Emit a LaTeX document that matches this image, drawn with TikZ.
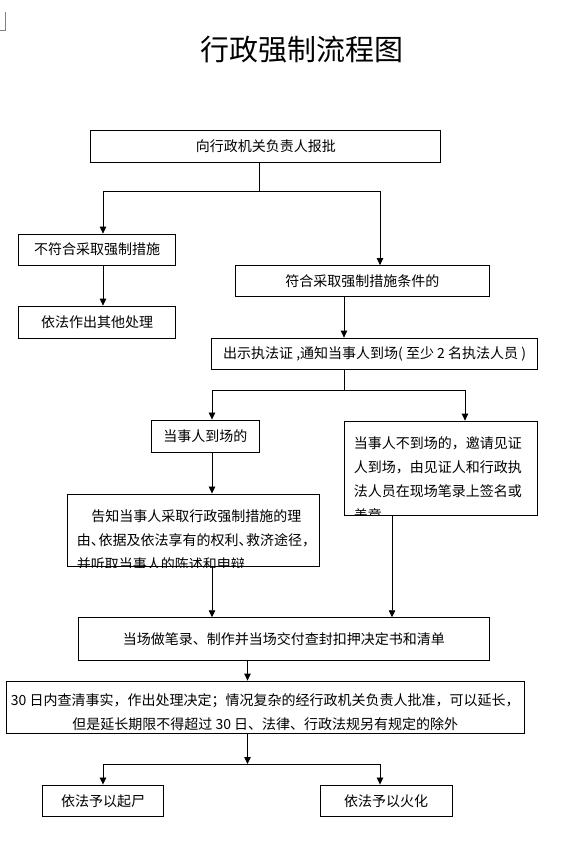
\documentclass[tikz,border=0pt]{standalone}
\usepackage{fontspec}
\setmainfont{Noto Sans CJK SC}
\usetikzlibrary{arrows.meta}

\tikzset{
    >={Triangle[length=7pt,width=6.5pt]},
    box/.style={draw, line width=0.8pt, inner sep=0pt, font=\fontsize{14}{24}\selectfont},
    flow/.style={line width=0.8pt},
    boxtext/.style={anchor=north west, align=left, inner sep=0pt, font=\fontsize{14}{24}\selectfont},
}
\newcommand{\dn}{\makebox[0.55em][l]{、}}

\begin{document}
\begin{tikzpicture}[x=1pt, y=-1pt]
    \useasboundingbox (0,0) rectangle (561,848);
    \draw[gray, line width=0.6pt] (0,30) -- (5.5,30) -- (5.5,12);

    % Title
    \node[font=\fontsize{29}{34}\selectfont] (title) at (302,50) {行政强制流程图};

    % Approval
    \node[box, minimum width=350pt, minimum height=32pt] (report) at (265.8,146) {向行政机关负责人报批};
    \node[box, minimum width=157pt, minimum height=31pt] (nomeet) at (97,249.5) {不符合采取强制措施};
    \node[box, minimum width=157pt, minimum height=32pt] (other) at (97,322) {依法作出其他处理};
    \node[box, minimum width=253.4pt, minimum height=31pt] (meet) at (362.3,281) {符合采取强制措施条件的};
    \coordinate (split1) at (259.7,191.7);
    \draw[flow] (report.south -| split1) -- (split1);
    \draw[flow, ->] (split1) -| ([xshift=6pt]nomeet.north);
    \draw[flow, ->] (split1) -| ([xshift=17.7pt]meet.north);
    \draw[flow, ->] ([xshift=6pt]nomeet.south) -- ([xshift=6pt]other.north);

    % On the spot
    \node[box, minimum width=326.3pt, minimum height=31pt] (notify) at (374.6,353.5) {出示执法证 ,通知当事人到场( 至少 2 名执法人员 )};
    \draw[flow, ->] ([xshift=-18.3pt]meet.south) -- ([xshift=-18.3pt]meet.south |- notify.north);
    \node[box, minimum width=108.7pt, minimum height=32.7pt] (present) at (205.4,436.3) {当事人到场的};
    \node[box, minimum width=193.2pt, minimum height=94pt] (absent) at (441.2,468) {};
    \node[box, minimum width=252.4pt, minimum height=72.7pt] (inform) at (193.2,530.3) {};
    \begin{scope}
        \clip (absent.north west) rectangle (absent.south east);
        \node[boxtext] (absenttext) at ([xshift=9.5pt,yshift=-15.5pt]absent.north west)
            {当事人不到场的，邀请见证\\人到场，由见证人和行政执\\法人员在现场笔录上签名或\\盖章};
    \end{scope}
    \begin{scope}
        \clip (inform.north west) rectangle (inform.south east);
        \node[boxtext] (informtext) at ([xshift=10pt,yshift=-16pt]inform.north west)
            {\hspace*{14.5pt}告知当事人采取行政强制措施的理\\由\dn 依据及依法享有的权利\dn 救济途径，\\并听取当事人的陈述和申辩};
    \end{scope}
    \coordinate (split2) at (344,390);
    \draw[flow] (notify.south -| split2) -- (split2);
    \draw[flow, ->] (split2) -| ([xshift=6.6pt]present.north);
    \draw[flow, ->] (split2) -| ([xshift=23.8pt]absent.north);
    \draw[flow, ->] ([xshift=6.6pt]present.south) -- ([xshift=6.6pt]present.south |- inform.north);

    % Seizure and decision
    \node[box, minimum width=410.2pt, minimum height=42.3pt] (record) at (283.9,638.8) {当场做笔录、制作并当场交付查封扣押决定书和清单};
    \node[box, minimum width=517.5pt, minimum height=52pt, align=center] (decide) at (265.3,707)
        {\rule{0pt}{22pt}30 日内查清事实，作出处理决定；情况复杂的经行政机关负责人批准，可以延长，\\但是延长期限不得超过 30 日、法律、行政法规另有规定的除外};
    \draw[flow, ->] ([xshift=18.8pt]inform.south) -- ([xshift=18.8pt]inform.south |- record.north);
    \draw[flow, ->] ([xshift=-49.2pt]absent.south) -- ([xshift=-49.2pt]absent.south |- record.north);
    \draw[flow, ->] ([xshift=-36.4pt]record.south) -- ([xshift=-36.4pt]record.south |- decide.north);

    % Outcome
    \node[box, minimum width=121.3pt, minimum height=31.7pt] (exhume) at (103,800.8) {依法予以起尸};
    \node[box, minimum width=132.5pt, minimum height=31.7pt] (cremate) at (386.2,800.8) {依法予以火化};
    \coordinate (split3) at (247.5,764);
    \draw[flow, ->] (decide.south -| split3) -- (split3);
    \draw[flow, ->] (split3) -| (exhume.north);
    \draw[flow, ->] (split3) -| ([xshift=-6.2pt]cremate.north);
\end{tikzpicture}
\end{document}
